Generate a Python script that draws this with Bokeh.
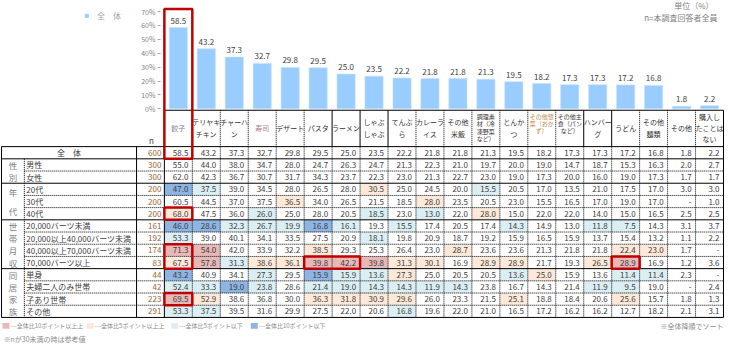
from bokeh.plotting import figure
from bokeh.models import (Range1d, LinearAxis, FixedTicker, PrintfTickFormatter,
                          Legend, LegendItem)
from bokeh.core.properties import value
from bokeh.embed import file_html
from bokeh.resources import INLINE

FONT = "Noto Sans CJK JP"

# ---------------- data ----------------
categories = ["餃子", "テリヤキチキン", "チャーハン", "寿司", "デザート", "パスタ", "ラーメン",
              "しゃぶしゃぶ", "てんぷら", "カレーライス", "その他米飯", "調理素材（冷凍野菜など）",
              "とんかつ", "その他惣菜（おかず）", "その他主食（パンなど）", "ハンバーグ", "うどん",
              "その他麺類", "その他", "購入したことはない"]
header_lines = [["餃子"], ["テリヤキ", "チキン"], ["チャーハ", "ン"], ["寿司"], ["デザート"],
                ["パスタ"], ["ラーメン"], ["しゃぶ", "しゃぶ"], ["てんぷ", "ら"], ["カレーラ", "イス"],
                ["その他", "米飯"], ["調理素", "材（冷", "凍野菜", "など）"], ["とんか", "つ"],
                ["その他惣", "菜（おか", "ず）"], ["その他主", "食（パン", "など）"], ["ハンバー", "グ"],
                ["うどん"], ["その他", "麺類"], ["その他"], ["購入し", "たことは", "ない"]]

overall = [58.5, 43.2, 37.3, 32.7, 29.8, 29.5, 25.0, 23.5, 22.2, 21.8, 21.8, 21.3, 19.5, 18.2, 17.3, 17.3, 17.2, 16.8, 1.8, 2.2]
male = [55.0, 44.0, 38.0, 34.7, 28.0, 24.7, 26.3, 24.7, 21.3, 22.3, 21.0, 19.7, 20.0, 19.0, 14.7, 18.7, 15.3, 16.3, 2.0, 2.7]
female = [62.0, 42.3, 36.7, 30.7, 31.7, 34.3, 23.7, 22.3, 23.0, 21.3, 22.7, 23.0, 19.0, 17.3, 20.0, 16.0, 19.0, 17.3, 1.7, 1.7]
age20 = [47.0, 37.5, 39.0, 34.5, 28.0, 26.5, 28.0, 30.5, 25.0, 24.5, 20.0, 15.5, 20.5, 17.0, 13.5, 21.0, 17.5, 17.0, 3.0, 3.0]
age30 = [60.5, 44.5, 37.0, 37.5, 36.5, 34.0, 26.5, 21.5, 18.5, 28.0, 23.5, 20.5, 23.0, 15.5, 16.5, 17.0, 19.0, 17.0, None, 1.0]
age40 = [68.0, 47.5, 36.0, 26.0, 25.0, 28.0, 20.5, 18.5, 23.0, 13.0, 22.0, 28.0, 15.0, 22.0, 22.0, 14.0, 15.0, 16.5, 2.5, 2.5]
inc1 = [46.0, 28.6, 32.3, 26.7, 19.9, 16.8, 16.1, 19.3, 15.5, 17.4, 20.5, 17.4, 14.3, 14.9, 13.0, 11.8, 7.5, 14.3, 3.1, 3.7]
inc2 = [53.3, 39.0, 40.1, 34.1, 33.5, 27.5, 20.9, 18.1, 19.8, 20.9, 18.7, 19.2, 15.9, 16.5, 15.9, 13.7, 15.4, 13.2, 1.1, 2.2]
inc3 = [71.3, 54.0, 42.0, 33.9, 32.2, 38.5, 29.3, 25.3, 26.4, 23.0, 28.7, 23.6, 23.6, 21.3, 21.8, 21.8, 22.4, 23.0, 1.7, None]
inc4 = [67.5, 57.8, 31.3, 38.6, 36.1, 39.8, 42.2, 39.8, 31.3, 30.1, 16.9, 28.9, 28.9, 21.7, 19.3, 26.5, 28.9, 16.9, 1.2, 3.6]
single = [43.2, 40.9, 34.1, 27.3, 29.5, 15.9, 15.9, 13.6, 27.3, 25.0, 20.5, 20.5, 13.6, 25.0, 15.9, 13.6, 11.4, 11.4, 2.3, None]
couple = [52.4, 33.3, 19.0, 23.8, 28.6, 21.4, 19.0, 14.3, 14.3, 11.9, 14.3, 23.8, 16.7, 14.3, 21.4, 11.9, 9.5, 19.0, None, 2.4]
withkids = [69.5, 52.9, 38.6, 36.8, 30.0, 36.3, 31.8, 30.9, 29.6, 26.0, 23.3, 21.5, 25.1, 18.8, 18.4, 20.6, 25.6, 15.7, 1.8, 1.3]
otherhh = [53.3, 37.5, 39.5, 31.6, 29.9, 27.5, 22.0, 20.6, 16.8, 19.6, 22.0, 21.0, 16.5, 17.2, 16.2, 16.2, 12.7, 18.2, 2.1, 3.1]

row_labels = ["全　体", "男性", "女性", "20代", "30代", "40代", "20,000バーツ未満",
              "20,000以上40,000バーツ未満", "40,000以上70,000バーツ未満", "70,000バーツ以上",
              "単身", "夫婦二人のみ世帯", "子あり世帯", "その他"]
row_n = [600, 300, 300, 200, 200, 200, 161, 192, 174, 83, 44, 42, 223, 291]
rows = [overall, male, female, age20, age30, age40, inc1, inc2, inc3, inc4,
        single, couple, withkids, otherhh]
groups = [("性別", 1, 2), ("年代", 3, 5), ("世帯月収", 6, 9), ("同居家族", 10, 13)]
y_ticks = [0, 10, 20, 30, 40, 50, 60, 70]
series_label = "全　体"
legend_labels = ["---全体比10ポイント以上上", "---全体比5ポイント以上上",
                 "---全体比5ポイント以下", "---全体比10ポイント以下"]
legend_colors = ["#E6B8B7", "#FDE9D9", "#DAEEF3", "#8DB4E2"]
# highlighted cells: (first row, last row, first col, last col)
highlights = [(5, 5, 0, 0), (8, 9, 0, 0), (9, 9, 5, 6), (9, 9, 16, 16), (12, 12, 0, 0)]

# ---------------- layout ----------------
TL, GR, LR, NR = 6.0, 29.0, 142.0, 170.0
CW = 28.15
TR = NR + CW * len(categories)
HT, BT, RH = 119.0, 156.1, 12.45
K = 99.2 / 70.0          # px per %
BASE = 117.5             # 0% line
Y_BOTTOM, Y_TOP = 357.0, 7.0


def cx(j):
    return NR + CW * (j + 0.5)


def rtop(r):
    return BT + RH * r


def rmid(r):
    return BT + RH * (r + 0.5)


p = figure(width=724, height=343, x_range=Range1d(5, 734), y_range=Range1d(Y_BOTTOM, Y_TOP),
           x_axis_type=None, y_axis_type=None, toolbar_location=None, output_backend="svg",
           min_border=0, outline_line_color=None, background_fill_color="white")
p.extra_y_ranges = {"pct": Range1d(start=(BASE - Y_BOTTOM) / K, end=(BASE - Y_TOP) / K)}

# ---------------- cell backgrounds ----------------
def cell_color(v, ref):
    d = round((0.0 if v is None else v) - ref, 1)
    if d >= 10:
        return legend_colors[0]
    if d >= 5:
        return legend_colors[1]
    if d <= -10:
        return legend_colors[3]
    if d <= -5:
        return legend_colors[2]
    return None

ql, qr, qt, qb, qc = [], [], [], [], []
for r in range(1, len(rows)):
    for j, v in enumerate(rows[r]):
        c = cell_color(v, overall[j])
        if c:
            ql.append(NR + CW * j); qr.append(NR + CW * (j + 1))
            qt.append(rtop(r)); qb.append(rtop(r + 1)); qc.append(c)
p.quad(left=ql, right=qr, top=qt, bottom=qb, fill_color=qc, line_color=None)

# ---------------- bars ----------------
xs = [cx(j) for j in range(len(categories))]
bars = p.vbar(x=xs, top=overall, bottom=0, width=CW * 0.65, y_range_name="pct",
              fill_color="#99CCFF", line_color="#C4E1FF", line_width=0.6)
p.text(x=xs, y=overall, text=[f"{v:.1f}" for v in overall], y_range_name="pct",
       text_align="center", text_baseline="bottom", y_offset=-4,
       text_font=value(FONT), text_font_size="8px", text_color="#404040")

ax = LinearAxis(y_range_name="pct", fixed_location=166, ticker=FixedTicker(ticks=y_ticks),
                formatter=PrintfTickFormatter(format="%d%%"), axis_line_color=None,
                major_tick_line_color="#a6a6a6", major_tick_out=3, major_tick_in=0,
                minor_tick_line_color=None, major_label_text_font_size="7px",
                major_label_text_color="#7f7f7f", major_label_standoff=2,
                major_label_text_font=FONT)
p.add_layout(ax, "left")

legend = Legend(items=[LegendItem(label=series_label, renderers=[bars])], location=(84, 322),
                padding=0, margin=0, border_line_color=None, background_fill_alpha=0,
                glyph_width=5, glyph_height=5, label_standoff=8, label_height=9,
                label_text_font=FONT, label_text_font_size="8px", label_text_color="#a6a6a6")
p.add_layout(legend)

p.text(x=[TR - 10, TR - 6], y=[12.5, 24.5], text=["単位（%）", "n=本調査回答者全員"],
       text_align="right", text_baseline="middle", text_font=value(FONT),
       text_font_size="8px", text_color="#7f7f7f")

# ---------------- header ----------------
hx, hy, ht, hc, hs = [], [], [], [], []
for j, lines in enumerate(header_lines):
    n = len(lines)
    small = n >= 3 and j in (11, 13, 14)
    if n == 1:
        ys = [137.5]
    elif n == 2:
        ys = [131.0, 143.0]
    elif small and n == 3:
        ys = [125.0, 132.5, 140.0]
    elif n == 3:
        ys = [125.5, 137.0, 148.5]
    else:
        ys = [125.0, 132.7, 140.3, 148.0]
    col = "#333333"
    if j == 0:
        col = "#7f7f9f"
    elif j == 3:
        col = "#b08080"
    elif j == 13:
        col = "#c0894a"
    for k, t in enumerate(lines):
        hx.append(cx(j)); hy.append(ys[k]); ht.append(t); hc.append(col)
        hs.append("6px" if small else "7px")
p.text(x=hx, y=hy, text=ht, text_color=hc, text_font_size=hs, text_align="center",
       text_baseline="middle", text_font=value(FONT))
p.text(x=[157], y=[150], text=["n"], text_align="center", text_baseline="middle",
       text_font=value(FONT), text_font_size="8px", text_color="#404040")

# ---------------- body texts ----------------
vx, vy, vt = [], [], []
for r, vals in enumerate(rows):
    for j, v in enumerate(vals):
        vx.append(NR + CW * (j + 1) - 4); vy.append(rmid(r))
        vt.append("-" if v is None else f"{v:.1f}")
p.text(x=vx, y=vy, text=vt, text_align="right", text_baseline="middle",
       text_font=value(FONT), text_font_size="8px", text_color="#404040")
p.text(x=[NR - 3] * len(row_n), y=[rmid(r) for r in range(len(row_n))],
       text=[str(n) for n in row_n], text_align="right", text_baseline="middle",
       text_font=value(FONT), text_font_size="8px", text_color="#996633")
p.text(x=[(TL + LR) / 2], y=[rmid(0)], text=[row_labels[0]], text_align="center",
       text_baseline="middle", text_font=value(FONT), text_font_size="8px", text_color="#404040")
p.text(x=[GR + 2] * (len(row_labels) - 1), y=[rmid(r) for r in range(1, len(row_labels))],
       text=row_labels[1:], text_align="left", text_baseline="middle",
       text_font=value(FONT), text_font_size="8px", text_color="#404040")
gx, gy, gt = [], [], []
for name, r0, r1 in groups:
    span = rtop(r1 + 1) - rtop(r0)
    for k, ch in enumerate(name):
        gx.append((TL + GR) / 2); gy.append(rtop(r0) + span * (k + 0.5) / len(name)); gt.append(ch)
p.text(x=gx, y=gy, text=gt, text_align="center", text_baseline="middle",
       text_font=value(FONT), text_font_size="8.5px", text_color="#7f7f7f")

# ---------------- grid lines ----------------
nrows = len(rows)
solid_after = {0, 2, 5, 9, 13}
sx0, sy0, sx1, sy1 = [NR, TL], [HT, BT], [TR, TR], [HT, BT]
dx0, dy0, dx1, dy1 = [], [], [], []
for r in range(nrows):
    y = rtop(r + 1)
    if r in solid_after:
        sx0.append(TL); sx1.append(TR); sy0.append(y); sy1.append(y)
    else:
        dx0.append(GR); dx1.append(TR); dy0.append(y); dy1.append(y)
bottom = rtop(nrows)
for x, y0 in [(TL, BT), (LR, BT), (NR, HT), (TR, HT)]:
    sx0.append(x); sx1.append(x); sy0.append(y0); sy1.append(bottom)
dx0.append(GR); dx1.append(GR); dy0.append(rtop(1)); dy1.append(bottom)
header_solid = {6, 7, 8, 15, 16}
for k in range(1, len(categories)):
    x = NR + CW * k
    if k in header_solid:
        sx0.append(x); sx1.append(x); sy0.append(HT); sy1.append(BT)
    else:
        dx0.append(x); dx1.append(x); dy0.append(HT); dy1.append(BT)
    dx0.append(x); dx1.append(x); dy0.append(BT); dy1.append(bottom)
p.segment(x0=sx0, y0=sy0, x1=sx1, y1=sy1, line_color="black", line_width=1)
p.segment(x0=dx0, y0=dy0, x1=dx1, y1=dy1, line_color="black", line_width=1, line_dash="1 1")

# ---------------- red highlight boxes ----------------
bl, br, bt_, bb = [NR], [NR + CW], [15.7], [rtop(1)]
for r0, r1, c0, c1 in highlights:
    bl.append(NR + CW * c0); br.append(NR + CW * (c1 + 1))
    bt_.append(rtop(r0)); bb.append(rtop(r1 + 1))
p.quad(left=bl, right=br, top=bt_, bottom=bb, fill_alpha=0, line_color="#C00000", line_width=2.5)

# ---------------- bottom legend and notes ----------------
lx = [7, 92, 177, 257]
p.quad(left=lx, right=[x + 7 for x in lx], top=[336] * 4, bottom=[342] * 4,
       fill_color=legend_colors, line_color=None)
p.text(x=[x + 8 for x in lx], y=[339] * 4, text=legend_labels, text_align="left",
       text_baseline="middle", text_font=value(FONT), text_font_size="6px", text_color="#8c8c8c")
p.text(x=[TR], y=[339], text=["※全体降順でソート"], text_align="right", text_baseline="middle",
       text_font=value(FONT), text_font_size="7px", text_color="#8c8c8c")
p.text(x=[8], y=[352], text=["※nが30未満の時は参考値"], text_align="left", text_baseline="middle",
       text_font=value(FONT), text_font_size="7px", text_color="#8c8c8c")

open("out.html", "w").write(file_html(p, INLINE))
